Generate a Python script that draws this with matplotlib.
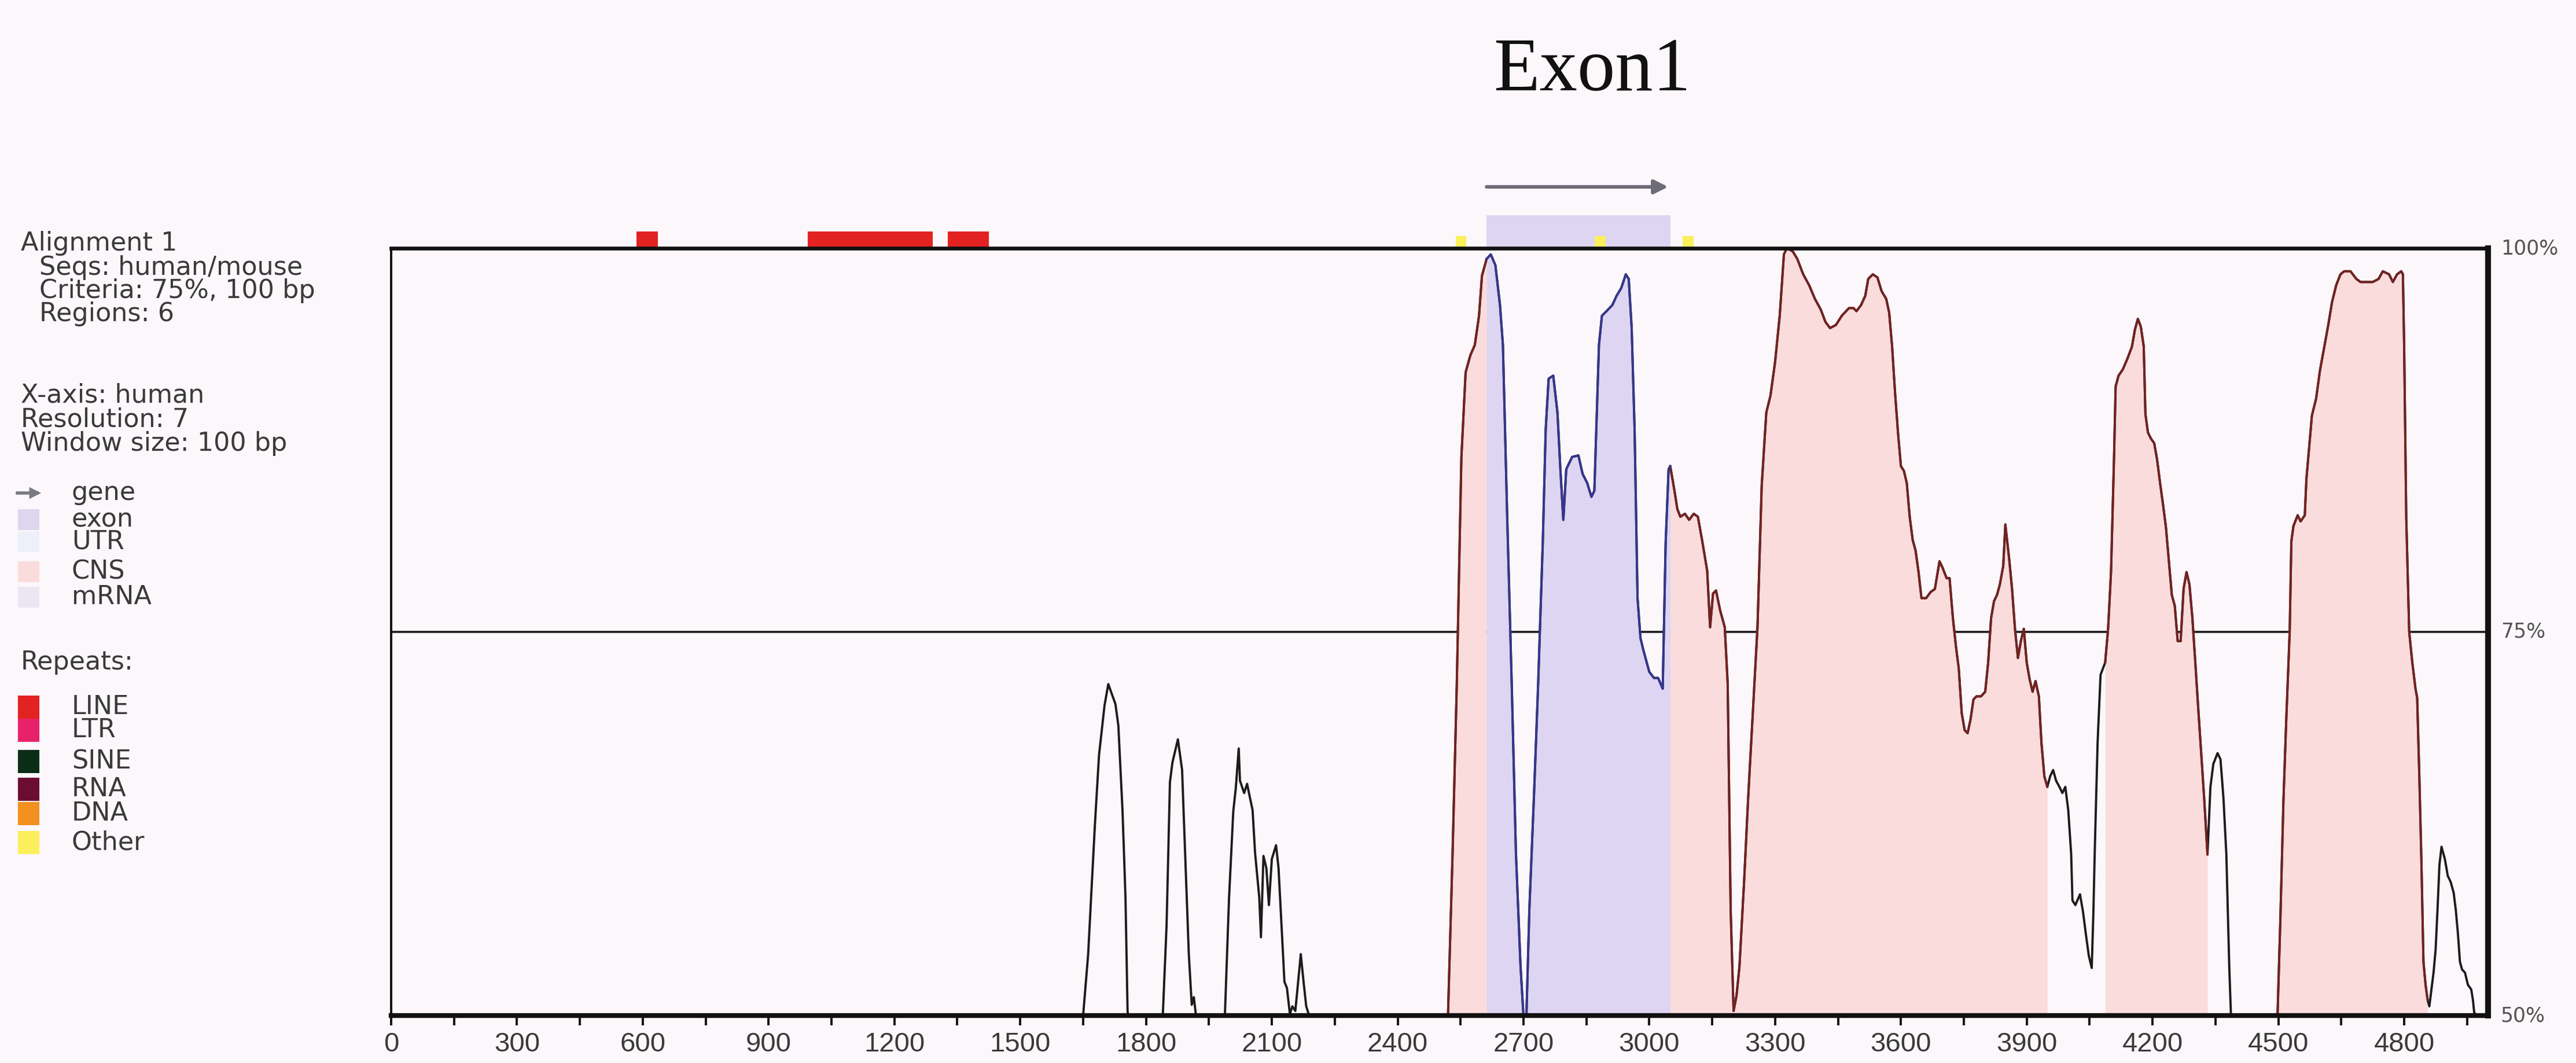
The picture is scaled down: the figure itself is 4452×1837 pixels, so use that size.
import numpy as np
import matplotlib.pyplot as plt

W, H, DPI = 4452, 1837, 200

# conservation curve (human vs mouse); 50 = at or below the floor
pos_bp = [0, 1650, 1662, 1678, 1688, 1701, 1710, 1727, 1734, 1744, 1751, 1756, 1757,
          1840, 1849, 1857, 1863, 1876, 1886, 1892, 1902, 1909, 1914, 1919,
          1988, 1998, 2008, 2014, 2021, 2024, 2034, 2041, 2047, 2054, 2060, 2070, 2074,
          2077, 2080, 2087, 2093, 2100, 2110, 2116, 2123, 2130, 2136, 2143, 2149, 2156,
          2163, 2169, 2176, 2182, 2189,
          2520, 2531, 2541, 2552, 2562, 2573, 2584, 2594, 2601, 2612, 2622, 2633, 2644,
          2651, 2661, 2672, 2682, 2693, 2700, 2707, 2714, 2725, 2735, 2746, 2753, 2760,
          2771, 2781, 2788, 2795, 2802, 2816, 2831, 2841, 2852, 2862, 2869, 2880, 2887,
          2898, 2912, 2922, 2933, 2944, 2951, 2958, 2965, 2972, 2979, 2986, 2993, 3000,
          3011, 3021, 3032, 3035, 3039, 3046, 3050, 3060, 3067, 3074, 3085, 3095, 3106,
          3116, 3127, 3138, 3145, 3152, 3159, 3169, 3180, 3187, 3194, 3201, 3208, 3215,
          3226, 3236, 3247, 3258, 3268, 3279, 3289, 3300, 3311, 3321, 3328, 3342, 3353,
          3367, 3381, 3395, 3409, 3420, 3431, 3445, 3459, 3476,
          3487, 3494, 3505, 3515, 3522, 3533, 3544, 3554, 3565, 3572, 3579, 3586, 3593,
          3600, 3607, 3614, 3621, 3628, 3635, 3642, 3649, 3660, 3671, 3681, 3692, 3699,
          3709, 3716, 3724, 3731, 3738, 3745, 3752, 3759, 3766, 3773, 3780, 3791, 3801,
          3808, 3815, 3822, 3829, 3836, 3844, 3849, 3853, 3858, 3865, 3872, 3879, 3886,
          3893, 3900, 3907, 3914, 3921, 3929, 3935, 3942, 3949, 3956, 3963, 3970, 3978,
          3985, 3992, 3999, 4006, 4009, 4016, 4027, 4034, 4041, 4048, 4055, 4059, 4062,
          4069, 4076, 4087, 4094, 4101, 4108, 4112, 4119, 4129, 4140, 4151, 4158, 4165,
          4172, 4179, 4183, 4189, 4196, 4204, 4211, 4218, 4225, 4232, 4239, 4246, 4253,
          4260, 4267, 4274, 4281, 4288, 4295, 4302, 4309, 4316, 4323, 4331, 4338, 4345,
          4355, 4362, 4369, 4376, 4383, 4387,
          4498, 4505, 4512, 4519, 4527, 4531, 4536, 4546, 4553, 4563, 4567, 4573, 4580,
          4590, 4599, 4609, 4619, 4628, 4638, 4648, 4657, 4672, 4686, 4696, 4710, 4725,
          4739, 4749, 4764, 4773, 4783, 4793, 4797, 4800, 4805, 4812, 4819, 4827, 4831,
          4836, 4841, 4846, 4851, 4856, 4860, 4865, 4870, 4875, 4880, 4884, 4889, 4897,
          4904, 4911, 4918, 4923, 4928, 4933, 4938, 4945, 4952, 4960, 4964, 4967, 4972,
          5000]
identity_pct = [50, 50, 54.0, 62.4, 67.0, 70.2, 71.6, 70.3, 68.9, 63.3, 57.7, 50.3, 50,
                50, 55.9, 65.2, 66.5, 68.0, 66.0, 61.5, 54.0, 50.7, 51.2, 50,
                50, 57.7, 63.3, 64.8, 67.4, 65.3, 64.5, 65.1, 64.3, 63.4, 60.6, 57.7, 55.1,
                57.7, 60.4, 59.6, 57.2, 60.2, 61.1, 59.6, 55.9, 52.2, 51.8, 50.1, 50.6, 50.3,
                52.3, 54.0, 52.1, 50.6, 50,
                50, 60.6, 71.6, 86.4, 91.9, 93.0, 93.7, 95.6, 98.2, 99.3, 99.6, 98.9, 96.3,
                93.7, 82.7, 71.6, 60.6, 53.2, 50, 50, 56.9, 64.3, 71.6, 80.8, 88.2, 91.5,
                91.7, 89.3, 85.6, 82.3, 85.6, 86.4, 86.5, 85.3, 84.7, 83.8, 84.2, 93.7, 95.6,
                95.9, 96.3, 96.9, 97.4, 98.3, 98.0, 94.8, 88.2, 77.2, 74.6, 73.8, 73.1, 72.4,
                72.0, 72.0, 71.3, 75.3, 80.8, 85.6, 85.8, 84.2, 83.0, 82.5, 82.7, 82.3, 82.7,
                82.5, 80.8, 79.0, 75.3, 77.5, 77.7, 76.4, 75.3, 71.6, 56.9, 50.3, 51.3, 53.2,
                58.7, 64.3, 69.8, 75.3, 84.5, 89.3, 90.4, 92.6, 95.6, 99.6, 100, 99.8, 99.3,
                98.3, 97.6, 96.7, 96.0, 95.2, 94.8, 95.0, 95.6, 96.1,
                96.1, 95.9, 96.3, 96.9, 98.0, 98.3, 98.1, 97.2, 96.7, 95.8, 93.6, 90.6, 88.0,
                85.8, 85.5, 84.7, 82.5, 81.0, 80.3, 78.9, 77.2, 77.2, 77.6, 77.8, 79.6, 79.2,
                78.5, 78.5, 75.9, 74.1, 72.6, 69.7, 68.6, 68.4, 69.3, 70.6, 70.8, 70.8, 71.1,
                73.0, 75.9, 77.0, 77.4, 78.1, 79.3, 82.0, 81.0, 79.8, 77.8, 75.2, 73.3, 74.4,
                75.2, 73.0, 71.9, 71.1, 71.8, 70.8, 67.8, 65.6, 64.9, 65.6, 66.0, 65.3, 64.9,
                64.5, 64.9, 63.4, 60.5, 57.5, 57.2, 57.9, 56.8, 55.3, 53.9, 53.1, 56.8, 60.5,
                67.8, 72.2, 73.0, 75.2, 78.9, 86.2, 91.0, 91.7, 92.1, 92.8, 93.6, 94.7, 95.4,
                94.9, 93.6, 89.2, 88.0, 87.6, 87.3, 86.2, 84.7, 83.3, 81.8, 79.6, 77.4, 76.7,
                74.4, 74.4, 77.8, 78.9, 78.1, 75.9, 73.0, 70.0, 67.1, 64.2, 60.5, 64.9, 66.4,
                67.1, 66.7, 64.2, 60.5, 53.1, 50,
                50, 56.5, 63.9, 69.4, 75.0, 80.9, 81.9, 82.6, 82.2, 82.6, 85.0, 86.9, 89.1,
                90.2, 92.0, 93.5, 95.0, 96.5, 97.6, 98.3, 98.5, 98.5, 98.0, 97.8, 97.8, 97.8,
                98.0, 98.5, 98.3, 97.8, 98.3, 98.5, 98.3, 93.5, 82.4, 75.0, 73.1, 71.3, 70.7,
                65.7, 60.2, 53.5, 52.0, 51.0, 50.6, 51.7, 52.8, 54.3, 57.2, 59.8, 61.0, 60.2,
                59.1, 58.7, 58.0, 56.9, 55.4, 53.5, 53.0, 52.8, 52.0, 51.7, 51.0, 50.2, 50,
                50]

cns_regions = [(2520, 2612), (3050, 3949), (4087, 4331), (4498, 4856)]
exon_regions = [(2612, 3050)]
gene_span = (2612, 3045)
line_repeats = [(585, 636), (993, 1291), (1327, 1425)]
other_repeats = [(2538, 2563), (2870, 2896), (3080, 3105)]

x_max = 5000
major_ticks = list(range(0, 4801, 300))
minor_ticks = list(range(150, 4951, 300))
pct_marks = [100, 75, 50]

info_lines = [("Alignment 1", 36, 421), ("Seqs: human/mouse", 68, 463),
              ("Criteria: 75%, 100 bp", 68, 503), ("Regions: 6", 68, 543),
              ("X-axis: human", 36, 683), ("Resolution: 7", 36, 725),
              ("Window size: 100 bp", 36, 766)]
feature_names = ["gene", "exon", "UTR", "CNS", "mRNA"]
feature_colors = [None, "#ddd6ee", "#eef0f9", "#fadcdc", "#ebe7f2"]
feature_y = [852, 898, 936, 988, 1032]
repeat_names = ["LINE", "LTR", "SINE", "RNA", "DNA", "Other"]
repeat_colors = ["#e32222", "#e8226a", "#0b2d17", "#6b0c30", "#f29020", "#fbef5c"]
repeat_y = [1222, 1262, 1316, 1364, 1406, 1456]

BG = "#fbf7fb"
CNS_FILL = "#fadcdc"
EXON_FILL = "#ddd5f1"
TEXT_C = "#3a3a3a"

x = np.array(pos_bp, dtype=float)
y = np.array(identity_pct, dtype=float)


def fx(px):
    return px / W


def fy(py):
    return 1 - py / H


fig = plt.figure(figsize=(W / DPI, H / DPI), dpi=DPI, facecolor=BG)
ax = fig.add_axes([fx(676), fy(1755), fx(4300) - fx(676), fy(429) - fy(1755)])
ax.set_facecolor(BG)
ax.set_xlim(0, x_max)
ax.set_ylim(50, 100)

# 75% criterion line sits under the shaded regions
ax.axhline(75, color="#1a1a1a", lw=1.3, zorder=1)

for a, b in cns_regions:
    m = (x >= a) & (x <= b)
    ax.fill_between(x, 50, y, where=m, color=CNS_FILL, lw=0, zorder=2)
for a, b in exon_regions:
    m = (x >= a) & (x <= b)
    ax.fill_between(x, 50, y, where=m, color=EXON_FILL, lw=0, zorder=2)

ax.plot(x, y, color="#1c1c1c", lw=1.4, zorder=3, clip_on=False)
for a, b in cns_regions:
    m = (x >= a) & (x <= b)
    ax.plot(x[m], y[m], color="#742222", lw=1.4, zorder=4)
for a, b in exon_regions:
    m = (x >= a) & (x <= b)
    ax.plot(x[m], y[m], color="#36368e", lw=1.4, zorder=4)

# annotation track above the plot
ax.broken_barh([(a, b - a) for a, b in exon_regions], (100, 2.15),
               facecolors=EXON_FILL, clip_on=False, zorder=1)
ax.broken_barh([(a, b - a) for a, b in line_repeats], (100, 1.1),
               facecolors=repeat_colors[0], clip_on=False, zorder=5)
ax.broken_barh([(a, b - a) for a, b in other_repeats], (100, 0.8),
               facecolors=repeat_colors[5], clip_on=False, zorder=5)
ax.annotate("", xy=(gene_span[1], 104), xytext=(gene_span[0], 104),
            arrowprops=dict(arrowstyle="-|>", color="#6e6c76", lw=2.2,
                            mutation_scale=18, shrinkA=0, shrinkB=0),
            annotation_clip=False)

# axes frame
for side, lw in [("left", 1.4), ("top", 2.4), ("right", 3.6), ("bottom", 3.0)]:
    ax.spines[side].set_linewidth(lw)
    ax.spines[side].set_color("#111111")
    ax.spines[side].set_zorder(6)

ax.set_yticks([])
ax.set_xticks(major_ticks)
ax.set_xticks(minor_ticks, minor=True)
ax.set_xticklabels([str(t) for t in major_ticks],
                   family=["Liberation Sans Narrow", "Liberation Sans", "DejaVu Sans"],
                   fontsize=17, color="#3a3a3a")
ax.tick_params(axis="x", which="both", direction="out", length=6, width=1.4,
               color="#111111", pad=4)

for v in pct_marks:
    ax.text(1.006, v, f"{v}%", transform=ax.get_yaxis_transform(),
            ha="left", va="center", fontsize=12.5, color="#555555", clip_on=False)

fig.text(fx(2752), fy(156), "Exon1", ha="center", va="baseline",
         family=["Liberation Serif", "DejaVu Serif"], fontsize=47, color="#111111")

# left-hand info and legend
for txt, px, py in info_lines:
    fig.text(fx(px), fy(py), txt, ha="left", va="center", fontsize=16, color=TEXT_C)

for name, col, py in zip(feature_names, feature_colors, feature_y):
    fig.text(fx(124), fy(py), name, ha="left", va="center", fontsize=16, color=TEXT_C)
    if col is None:
        fig.add_artist(plt.Line2D([fx(30), fx(64)], [fy(py), fy(py)], color="#7a7a82",
                                  lw=2, transform=fig.transFigure))
        fig.add_artist(plt.Polygon([[fx(52), fy(py - 8)], [fx(52), fy(py + 8)],
                                    [fx(68), fy(py)]], closed=True, color="#7a7a82",
                                   transform=fig.transFigure))
    else:
        fig.add_artist(plt.Rectangle((fx(31), fy(py + 18)), fx(37), fy(py - 18) - fy(py + 18),
                                     color=col, transform=fig.transFigure, lw=0))

fig.text(fx(36), fy(1144), "Repeats:", ha="left", va="center", fontsize=16, color=TEXT_C)
for name, col, py in zip(repeat_names, repeat_colors, repeat_y):
    fig.text(fx(124), fy(py), name, ha="left", va="center", fontsize=16, color=TEXT_C)
    fig.add_artist(plt.Rectangle((fx(31), fy(py + 20)), fx(37), fy(py - 20) - fy(py + 20),
                                 color=col, transform=fig.transFigure, lw=0))

fig.savefig("out.png", dpi=DPI, facecolor=BG)
